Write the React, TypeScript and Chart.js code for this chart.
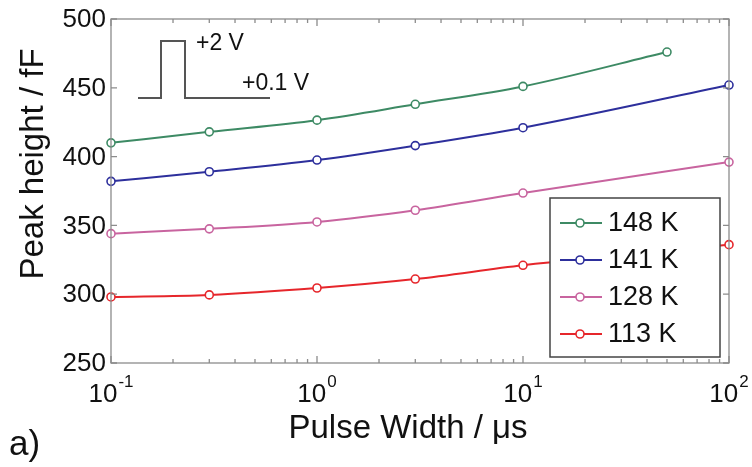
import React, { useEffect, useRef } from 'react';
import { Chart, registerables } from 'chart.js';
Chart.register(...registerables);

const pulseWidths = [0.1, 0.3, 1, 3, 10, 100];
const pulseWidths148 = [0.1, 0.3, 1, 3, 10, 50];
const seriesLabels = ['148 K', '141 K', '128 K', '113 K'];
const peak148 = [410, 418, 426.5, 438, 451, 476];
const peak141 = [382, 389, 397.5, 408, 421, 452];
const peak128 = [344, 347.5, 352.5, 361, 373.5, 396];
const peak113 = [298, 299.5, 304.5, 311, 321, 336];
const xTickExponents = [-1, 0, 1, 2];
const yTicks = [250, 300, 350, 400, 450, 500];
const seriesColors = ['#3d8a64', '#2d2f9c', '#c8649f', '#e6262b'];
const xTitle = 'Pulse Width / \u03bcs';
const yTitle = 'Peak height / fF';
const panelLabel = 'a)';
const pulseHigh = '+2 V';
const pulseLow = '+0.1 V';

const FONT = '"Liberation Sans", Arial, Helvetica, sans-serif';

const toPoints = (xs: number[], ys: number[]) => xs.map((x, i) => ({ x, y: ys[i] }));

const decorPlugin = {
  id: 'decor',
  afterDatasetsDraw(chart: any) {
    const { ctx, chartArea } = chart;
    const { left, right, top, bottom } = chartArea;
    const xs = chart.scales.x;
    const ys = chart.scales.y;
    ctx.save();
    // axes box
    ctx.strokeStyle = '#8c8c8c';
    ctx.lineWidth = 1.3;
    ctx.strokeRect(left, top, right - left, bottom - top);
    // y ticks
    ctx.fillStyle = '#111';
    ctx.font = `26px ${FONT}`;
    ctx.textAlign = 'right';
    ctx.textBaseline = 'middle';
    yTicks.forEach((v) => {
      const y = ys.getPixelForValue(v);
      ctx.beginPath();
      ctx.moveTo(left, y);
      ctx.lineTo(left + 6, y);
      ctx.moveTo(right, y);
      ctx.lineTo(right - 6, y);
      ctx.stroke();
      ctx.fillText(String(v), left - 5, y + 1);
    });
    // x ticks (major + minor)
    xTickExponents.forEach((e, idx) => {
      const base = Math.pow(10, e);
      const x = xs.getPixelForValue(base);
      ctx.beginPath();
      ctx.moveTo(x, bottom);
      ctx.lineTo(x, bottom - 7);
      ctx.moveTo(x, top);
      ctx.lineTo(x, top + 7);
      ctx.stroke();
      if (idx < xTickExponents.length - 1) {
        for (let m = 2; m <= 9; m++) {
          const xm = xs.getPixelForValue(base * m);
          ctx.beginPath();
          ctx.moveTo(xm, bottom);
          ctx.lineTo(xm, bottom - 4);
          ctx.moveTo(xm, top);
          ctx.lineTo(xm, top + 4);
          ctx.stroke();
        }
      }
      // label 10^e
      const baseTxt = '10';
      const expTxt = e < 0 ? '-' + Math.abs(e) : String(e);
      ctx.font = `26px ${FONT}`;
      const wb = ctx.measureText(baseTxt).width;
      ctx.font = `17px ${FONT}`;
      const we = ctx.measureText(expTxt).width;
      const start = x - (wb + we + 1) / 2;
      ctx.textAlign = 'left';
      ctx.textBaseline = 'alphabetic';
      ctx.font = `26px ${FONT}`;
      ctx.fillText(baseTxt, start, bottom + 39);
      ctx.font = `17px ${FONT}`;
      ctx.fillText(expTxt, start + wb + 1, bottom + 24);
    });
    // titles
    ctx.fillStyle = '#111';
    ctx.font = `33px ${FONT}`;
    ctx.textAlign = 'center';
    ctx.textBaseline = 'alphabetic';
    ctx.fillText(xTitle, 408, 438);
    ctx.save();
    ctx.translate(43, 164);
    ctx.rotate(-Math.PI / 2);
    ctx.fillText(yTitle, 0, 0);
    ctx.restore();
    ctx.textAlign = 'left';
    ctx.font = `35px ${FONT}`;
    ctx.fillText(panelLabel, 9, 455);
    // inset pulse
    ctx.strokeStyle = '#555';
    ctx.lineWidth = 2;
    ctx.beginPath();
    ctx.moveTo(138, 98);
    ctx.lineTo(161, 98);
    ctx.lineTo(161, 41);
    ctx.lineTo(185, 41);
    ctx.lineTo(185, 98);
    ctx.lineTo(270, 98);
    ctx.stroke();
    ctx.fillStyle = '#111';
    ctx.font = `23px ${FONT}`;
    ctx.textBaseline = 'middle';
    ctx.fillText(pulseHigh, 196, 44);
    ctx.fillText(pulseLow, 242, 84);
    // legend
    const lx = 550, ly = 198, lw = 170, lh = 159;
    ctx.fillStyle = '#fff';
    ctx.fillRect(lx, ly, lw, lh);
    ctx.strokeStyle = '#444';
    ctx.lineWidth = 1.5;
    ctx.strokeRect(lx, ly, lw, lh);
    seriesLabels.forEach((lab, i) => {
      const cy = ly + 25 + i * 37;
      ctx.strokeStyle = seriesColors[i];
      ctx.lineWidth = 2;
      ctx.beginPath();
      ctx.moveTo(lx + 10, cy);
      ctx.lineTo(lx + 52, cy);
      ctx.stroke();
      ctx.beginPath();
      ctx.arc(lx + 30, cy, 4, 0, Math.PI * 2);
      ctx.fillStyle = '#fff';
      ctx.fill();
      ctx.lineWidth = 1.6;
      ctx.stroke();
      ctx.fillStyle = '#111';
      ctx.font = `27px ${FONT}`;
      ctx.textBaseline = 'middle';
      ctx.textAlign = 'left';
      ctx.fillText(lab, lx + 58, cy + 1);
    });
    ctx.restore();
  },
};

export default function App() {
  const ref = useRef<HTMLCanvasElement | null>(null);
  useEffect(() => {
    if (!ref.current) return;
    const all = [
      toPoints(pulseWidths148, peak148),
      toPoints(pulseWidths, peak141),
      toPoints(pulseWidths, peak128),
      toPoints(pulseWidths, peak113),
    ];
    const chart = new Chart(ref.current, {
      type: 'line',
      data: {
        datasets: seriesLabels.map((label, i) => ({
          label,
          data: all[i],
          borderColor: seriesColors[i],
          pointBorderColor: seriesColors[i],
          pointBackgroundColor: '#fff',
          borderWidth: 2,
          pointRadius: 4,
          pointBorderWidth: 1.6,
          cubicInterpolationMode: 'monotone',
          clip: false,
        })),
      },
      options: {
        animation: false,
        responsive: false,
        maintainAspectRatio: false,
        layout: { padding: { left: 111, right: 23, top: 19, bottom: 104 } },
        plugins: { legend: { display: false }, tooltip: { enabled: false } },
        scales: {
          x: { type: 'logarithmic', min: 0.1, max: 100, display: false },
          y: { type: 'linear', min: 250, max: 500, display: false },
        },
      },
      plugins: [decorPlugin],
    } as any);
    return () => chart.destroy();
  }, []);
  return (
    <div style={{ position: 'fixed', left: 0, top: 0, width: 752, height: 467, background: '#fff' }}>
      <canvas ref={ref} width={752} height={467} style={{ width: 752, height: 467, display: 'block' }} />
    </div>
  );
}
